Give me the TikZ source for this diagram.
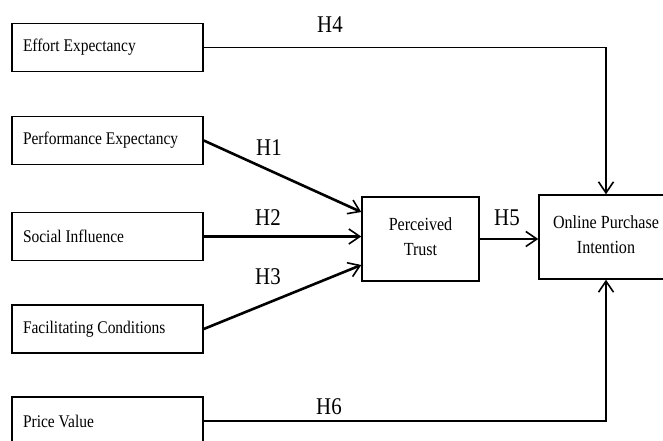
\documentclass[tikz,border=0pt]{standalone}
\usepackage{fontspec}
\setmainfont{Liberation Serif}[FakeStretch=0.87]
\usetikzlibrary{arrows.meta}

\begin{document}
\begin{tikzpicture}[
                    x=1pt, y=-1pt,
                    module/.style={
                        rectangle, draw=black, line width=1.5pt,
                        minimum height=48pt, inner xsep=11pt,
                        text width=169pt,
                        execute at begin node={\spaceskip=0pt\xspaceskip=0pt},
                        font=\fontsize{17.8}{20}\selectfont
                        },
                    core/.style={
                        rectangle, draw=black, line width=1.5pt,
                        minimum height=84pt, align=center,
                        font=\fontsize{18.5}{25}\selectfont
                        },
                    hyp/.style={font=\fontsize{24}{26}\selectfont, inner sep=0pt},
                    link/.style={
                        -{Straight Barb[length=11pt,width=15pt,line width=1.6pt]},
                        line width=1.8pt
                        },
                    strong/.style={link, line width=2.6pt}
                    ]
    \path[use as bounding box, fill=white] (0,0) rectangle (663,441);
    % constructs
    \node [module] (effort) at (107.5,47.5) {Effort Expectancy};
    \node [module] (perf)   at (107.5,140.5) {Performance Expectancy};
    \node [module] (social) at (107.5,236.5) {Social Influence};
    \node [module] (facil)  at (107.5,329) {Facilitating Conditions};
    \node [module] (price)  at (107.5,421) {Price Value};
    \node [core, minimum width=117pt] (trust)  at (420.5,239) {Perceived\\Trust\vphantom{g}};
    \node [core, minimum width=134pt] (intent) at (606,237) {Online Purchase\\Intention\vphantom{g}};
    % hypotheses
    \draw [strong] (perf.east) -- ([yshift=27pt]trust.west);
    \draw [strong] (social.east) -- (social.east -| trust.west);
    \draw [strong] (facil.east) -- ([yshift=-26pt]trust.west);
    \draw [link] (effort.east) -| (intent.north);
    \draw [link, line width=2.2pt] (trust.east) -- (trust.east -| intent.west);
    \draw [link] (price.east) -| (intent.south);
    \node [hyp] (h1) at (269,148) {H1};
    \node [hyp] (h2) at (268,218) {H2};
    \node [hyp] (h3) at (268,277) {H3};
    \node [hyp] (h4) at (330,25) {H4};
    \node [hyp] (h5) at (507,218) {H5};
    \node [hyp] (h6) at (329,407) {H6};
\end{tikzpicture}
\end{document}
